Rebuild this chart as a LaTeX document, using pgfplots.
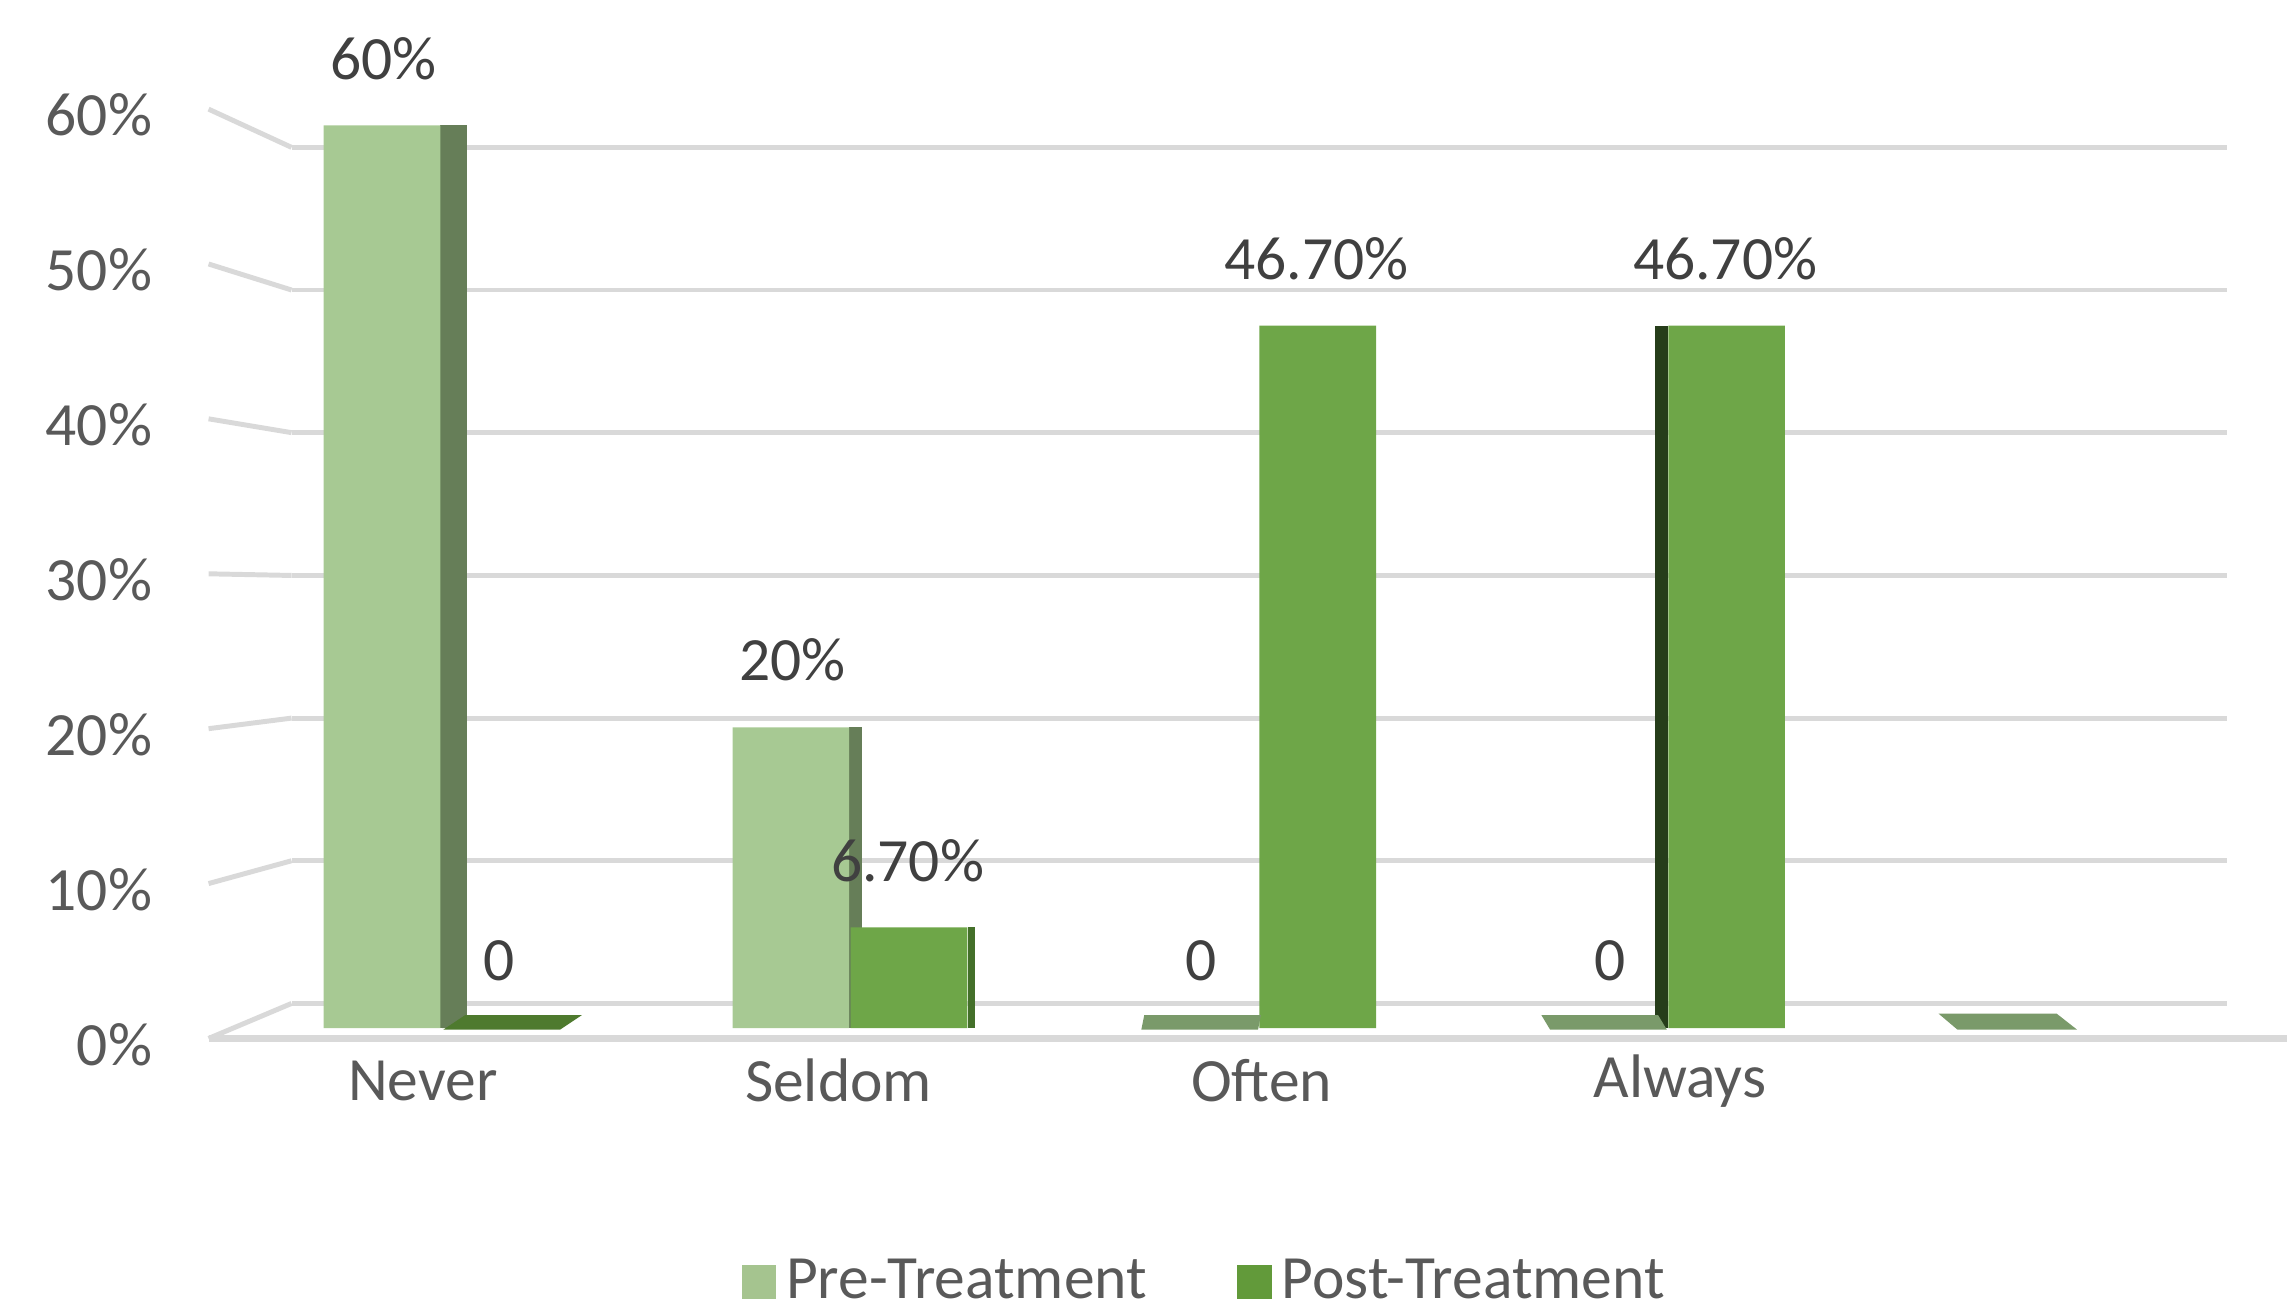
\documentclass[border=0pt]{standalone}
\usepackage{pgfplots}
\pgfplotsset{compat=1.18}
\usepackage{fontspec}
\setmainfont{Carlito}
\definecolor{gridc}{HTML}{D9D9D9}
\definecolor{txt}{HTML}{595959}
\definecolor{lbl}{HTML}{404040}
\definecolor{prefront}{HTML}{A7C993}
\definecolor{preside}{HTML}{667E58}
\definecolor{postfront}{HTML}{6EA648}
\definecolor{postside}{HTML}{44702A}
\definecolor{postsideL}{HTML}{263D1A}
\definecolor{slabpost}{HTML}{4E7A2E}
\definecolor{slabpre}{HTML}{7A9A6A}
\definecolor{legpre}{HTML}{A5C48F}
\definecolor{legpost}{HTML}{629A3A}
% zero-value bars seen from above (thin slabs), offsets from category centre
\pgfdeclareplotmark{slabNP}{%
  \pgfpathmoveto{\pgfpoint{0.02cm}{-0.01cm}}\pgfpathlineto{\pgfpoint{0.82cm}{-0.01cm}}%
  \pgfpathlineto{\pgfpoint{0.97cm}{0.09cm}}\pgfpathlineto{\pgfpoint{0.17cm}{0.09cm}}%
  \pgfpathclose\pgfusepathqfill}
\pgfdeclareplotmark{slabOP}{%
  \pgfpathmoveto{\pgfpoint{-0.80cm}{-0.01cm}}\pgfpathlineto{\pgfpoint{0cm}{-0.01cm}}%
  \pgfpathlineto{\pgfpoint{0.02cm}{0.09cm}}\pgfpathlineto{\pgfpoint{-0.78cm}{0.09cm}}%
  \pgfpathclose\pgfusepathqfill}
\pgfdeclareplotmark{slabAP}{%
  \pgfpathmoveto{\pgfpoint{-0.80cm}{-0.01cm}}\pgfpathlineto{\pgfpoint{0cm}{-0.01cm}}%
  \pgfpathlineto{\pgfpoint{-0.06cm}{0.09cm}}\pgfpathlineto{\pgfpoint{-0.86cm}{0.09cm}}%
  \pgfpathclose\pgfusepathqfill}
\pgfdeclareplotmark{slabFP}{%
  \pgfpathmoveto{\pgfpoint{-0.81cm}{-0.01cm}}\pgfpathlineto{\pgfpoint{0.01cm}{-0.01cm}}%
  \pgfpathlineto{\pgfpoint{-0.13cm}{0.10cm}}\pgfpathlineto{\pgfpoint{-0.94cm}{0.10cm}}%
  \pgfpathclose\pgfusepathqfill}
\begin{document}
\begin{tikzpicture}[font=\fontsize{12}{14}\selectfont]
\begin{axis}[
  at={(1.43cm,1.84cm)}, anchor=south west,
  scale only axis, width=14.25cm, height=6.384cm,
  xmin=-0.567, xmax=4.517, ymin=-0.68, ymax=61.2,
  clip=false,
  axis line style={draw=none},
  major tick length=0pt, tick style={draw=none},
  xtick={-0.043,0.974,2.009,3.032},
  xticklabels={Never,Seldom,Often,Always},
  ytick={-0.68,9.614,19.908,30.20,40.50,50.79,61.08},
  yticklabels={0\%,10\%,20\%,30\%,40\%,50\%,60\%},
  xticklabel style={anchor=center, yshift=-0.29cm, text=txt, font=\fontsize{12}{14}\selectfont},
  yticklabel style={anchor=east, inner sep=0pt, xshift=-0.38cm, yshift=-0.04cm, text=txt, font=\fontsize{12}{14}\selectfont},
  nodes near coords style={anchor=center, yshift=0.46cm, text=lbl, font=\fontsize{12}{14}\selectfont},
  legend style={at={(0.481,-0.262)}, anchor=center, draw=none, fill=none,
    text=txt, font=\fontsize{12}{14}\selectfont,
    /tikz/every even column/.append style={column sep=0.55cm}},
  legend columns=2,
]
% back wall grid lines
\draw[gridc, line width=0.034cm] (axis cs:-0.364,1.648) -- (axis cs:4.370,1.648);
\draw[gridc, line width=0.034cm] (axis cs:-0.364,11.13) -- (axis cs:4.370,11.13);
\draw[gridc, line width=0.034cm] (axis cs:-0.364,20.61) -- (axis cs:4.370,20.61);
\draw[gridc, line width=0.034cm] (axis cs:-0.364,30.09) -- (axis cs:4.370,30.09);
\draw[gridc, line width=0.034cm] (axis cs:-0.364,39.58) -- (axis cs:4.370,39.58);
\draw[gridc, line width=0.034cm] (axis cs:-0.364,49.06) -- (axis cs:4.370,49.06);
\draw[gridc, line width=0.034cm] (axis cs:-0.364,58.54) -- (axis cs:4.370,58.54);
% side wall lines
\draw[gridc, line width=0.034cm] (axis cs:-0.567,-0.68) -- (axis cs:-0.364,1.648);
\draw[gridc, line width=0.034cm] (axis cs:-0.567,9.614) -- (axis cs:-0.364,11.13);
\draw[gridc, line width=0.034cm] (axis cs:-0.567,19.908) -- (axis cs:-0.364,20.61);
\draw[gridc, line width=0.034cm] (axis cs:-0.567,30.20) -- (axis cs:-0.364,30.09);
\draw[gridc, line width=0.034cm] (axis cs:-0.567,40.50) -- (axis cs:-0.364,39.58);
\draw[gridc, line width=0.034cm] (axis cs:-0.567,50.79) -- (axis cs:-0.364,49.06);
\draw[gridc, line width=0.034cm] (axis cs:-0.567,61.08) -- (axis cs:-0.364,58.54);
% floor front edge
\draw[gridc, line width=0.045cm] (axis cs:-0.567,-0.68) -- (axis cs:4.517,-0.68);
% zero-value slabs
\addplot[only marks, mark=slabNP, mark options={fill=slabpost}, forget plot] coordinates {(0,0)};
\addplot[only marks, mark=slabOP, mark options={fill=slabpre}, forget plot] coordinates {(2,0)};
\addplot[only marks, mark=slabAP, mark options={fill=slabpre}, forget plot] coordinates {(3,0)};
\addplot[only marks, mark=slabFP, mark options={fill=slabpre}, forget plot] coordinates {(4,0)};
% side faces
\addplot[ybar, bar width=0.18cm, bar shift=0.09cm, fill=preside, draw=none, forget plot] coordinates {(0,60)};
\addplot[ybar, bar width=0.09cm, bar shift=0.045cm, fill=preside, draw=none, forget plot] coordinates {(1,20)};
\addplot[ybar, bar width=0.05cm, bar shift=0.84cm, fill=postside, draw=none, forget plot] coordinates {(1,6.7)};
\addplot[ybar, bar width=0.09cm, bar shift=-0.035cm, fill=postsideL, draw=none, forget plot] coordinates {(3,46.7)};
% front faces
\addplot[ybar, bar width=0.8cm, bar shift=-0.4cm, fill=prefront, draw=none, forget plot,
  nodes near coords, point meta=explicit symbolic,
  every node near coord/.append style={xshift=-0.39cm}]
  coordinates {(0,60) [60\%] (1,20) [20\%] (2,0) [0] (3,0) [0]};
\addplot[ybar, bar width=0.8cm, bar shift=0.41cm, fill=postfront, draw=none, forget plot,
  nodes near coords, point meta=explicit symbolic,
  every node near coord/.append style={xshift=0.40cm}]
  coordinates {(0,0) [0] (1,6.7) [6.70\%] (2,46.7) [46.70\%] (3,46.7) [46.70\%]};
\addlegendimage{legend image code/.code={\fill[legpre] (0cm,-0.11cm) rectangle (0.22cm,0.11cm);}}
\addlegendentry{Pre-Treatment}
\addlegendimage{legend image code/.code={\fill[legpost] (0cm,-0.11cm) rectangle (0.22cm,0.11cm);}}
\addlegendentry{Post-Treatment}
\end{axis}
\pgfresetboundingbox
\path (0,0) rectangle (15.68,8.96);
\end{tikzpicture}
\end{document}
